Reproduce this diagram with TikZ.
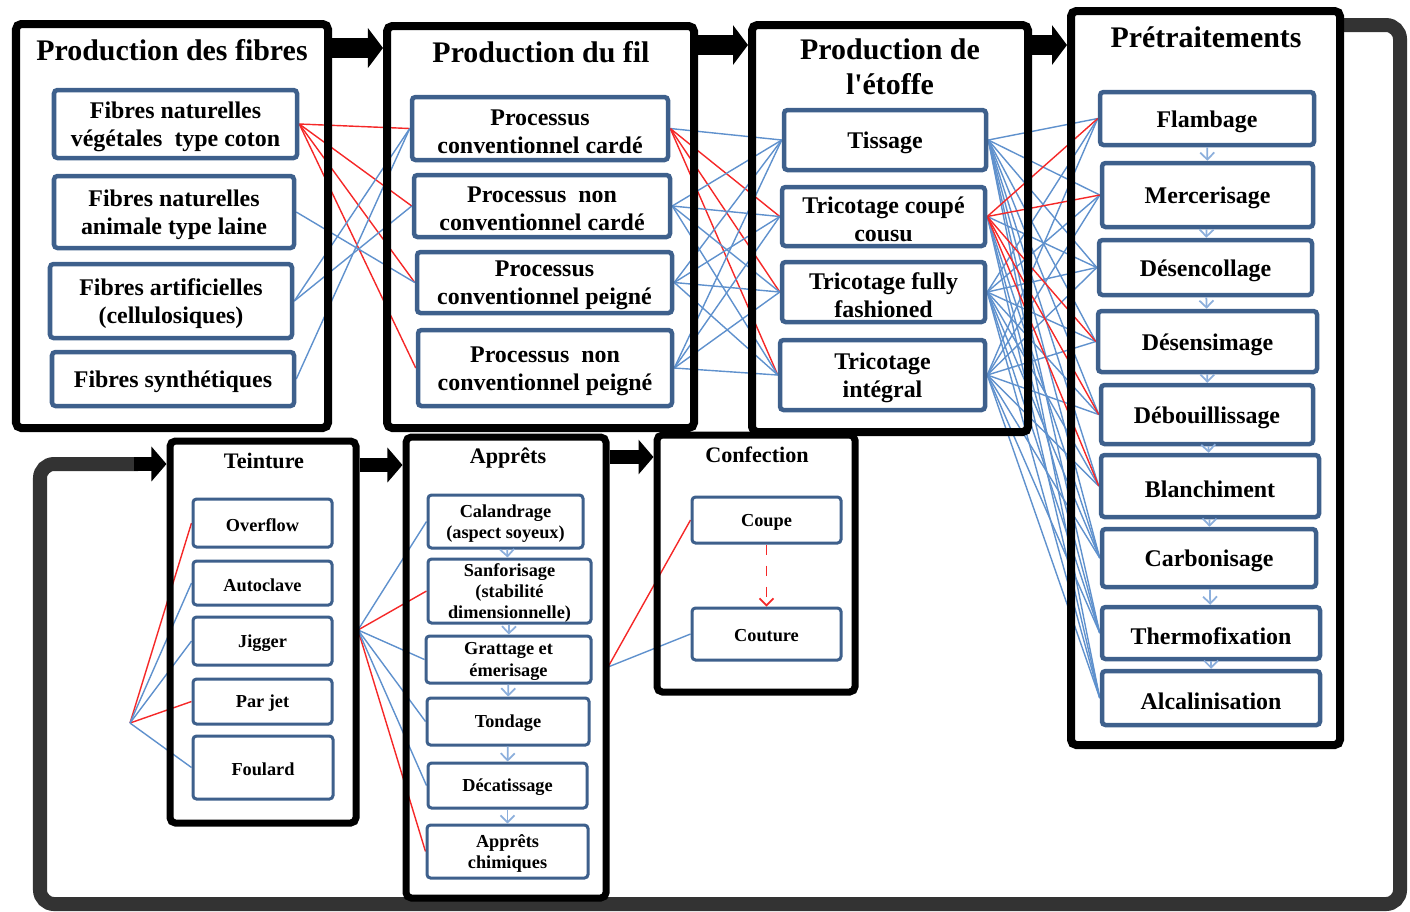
\documentclass[tikz,border=0pt]{standalone}
\usepackage{fontspec}
\setmainfont{Liberation Serif}
\usetikzlibrary{arrows.meta,fit}
\definecolor{boxblue}{RGB}{62,96,140}
\definecolor{linkblue}{RGB}{95,145,205}
\definecolor{linkred}{RGB}{245,40,40}
\definecolor{stepblue}{RGB}{140,175,220}
\definecolor{loopgray}{RGB}{51,51,51}
\pgfdeclarelayer{background}
\pgfsetlayers{background,main}

\tikzset{
  bigbox/.style={draw, line width=0.08cm, rounded corners=1.5pt, inner sep=0pt},
  lowbox/.style={bigbox, line width=0.07cm},
  title/.style={font=\fontsize{8.5}{10}\selectfont\bfseries, align=center},
  lowtitle/.style={font=\fontsize{6.3}{7.5}\selectfont\bfseries},
  subbox/.style={draw=boxblue, line width=0.045cm, rounded corners=1pt, fill=white, inner sep=0pt},
  lowsub/.style={subbox, line width=0.03cm},
  subtext/.style={align=center, inner sep=0pt, yshift=-0.03cm, font=\fontsize{6.8}{8}\selectfont\bfseries},
  lowtext/.style={align=center, inner sep=0pt, yshift=-0.02cm, font=\fontsize{5.2}{6.1}\selectfont\bfseries},
  blockarrow/.style={line width=0.2cm, -{Triangle[length=0.15cm,width=0.39cm]}},
  lowarrow/.style={line width=0.14cm, -{Triangle[length=0.15cm,width=0.34cm]}},
  loopline/.style={draw=loopgray, line width=0.14cm, rounded corners=4pt},
  redlink/.style={draw=linkred, line width=0.4pt},
  bluelink/.style={draw=linkblue, line width=0.4pt},
  steparrow/.style={draw=stepblue, line width=0.5pt, -{Straight Barb[length=0.07cm,width=0.14cm]}},
}

\begin{document}
\begin{tikzpicture}[x=0.01cm, y=-0.01cm]
  \useasboundingbox (0,0) rectangle (1410,911);

  % main stages, top row
  \node[bigbox, fit={(16,24) (328,428)}] (fibres) {};
  \node[bigbox, fit={(387,26) (694,428)}] (fil) {};
  \node[bigbox, fit={(752,25) (1028,432)}] (etoffe) {};
  \node[bigbox, fit={(1071,11) (1340,745)}] (pretrait) {};
  \node[title] (fibrestitle) at (172,50) {Production des fibres};
  \node[title] (filtitle) at (541,52) {Production du fil};
  \node[title] (etoffetitle) at (890,67) {Production de\\l\textquotesingle étoffe};
  \node[title] (pretraittitle) at (1206,37) {Prétraitements};

  % fibres
  \node[subbox, fit={(54,90) (297,158)}, label={[subtext]center:{Fibres naturelles\\végétales~ type coton}}] (vegetale) {};
  \node[subbox, fit={(54,176) (294,248)}, label={[subtext]center:{Fibres naturelles\\animale type laine}}] (animale) {};
  \node[subbox, fit={(50,264) (292,338)}, label={[subtext]center:{Fibres artificielles\\(cellulosiques)}}] (artif) {};
  \node[subbox, fit={(52,352) (294,406)}, label={[subtext]center:Fibres synthétiques}] (synth) {};

  % fil
  \node[subbox, fit={(412,97) (668,160)}, label={[subtext]center:{Processus\\conventionnel cardé}}] (convcarde) {};
  \node[subbox, fit={(414,175) (670,237)}, label={[subtext]center:{Processus~ non\\conventionnel cardé}}] (nconvcarde) {};
  \node[subbox, fit={(417,252) (672,313)}, label={[subtext]center:{Processus\\conventionnel peigné}}] (convpeigne) {};
  \node[subbox, fit={(418,330) (672,406)}, label={[subtext]center:{Processus~ non\\conventionnel peigné}}] (nconvpeigne) {};

  % etoffe
  \node[subbox, fit={(784,110) (986,170)}, label={[subtext]center:Tissage}] (tissage) {};
  \node[subbox, fit={(782,187) (985,246)}, label={[subtext]center:{Tricotage coupé\\cousu}}] (coupecousu) {};
  \node[subbox, fit={(782,262) (985,322)}, label={[subtext]center:{Tricotage fully\\fashioned}}] (fully) {};
  \node[subbox, fit={(780,340) (985,410)}, label={[subtext]center:{Tricotage\\intégral}}] (integral) {};

  % pretraitements
  \node[subbox, fit={(1100,92) (1314,145)}, label={[subtext]center:Flambage}] (flambage) {};
  \node[subbox, fit={(1102,163) (1313,227)}, label={[subtext]center:Mercerisage}] (mercer) {};
  \node[subbox, fit={(1099,240) (1312,295)}, label={[subtext]center:Désencollage}] (desencol) {};
  \node[subbox, fit={(1098,311) (1317,372)}, label={[subtext]center:Désensimage}] (desensim) {};
  \node[subbox, fit={(1101,385) (1313,444)}, label={[subtext]center:Débouillissage}] (debouil) {};
  \node[subbox, fit={(1101,455) (1319,517)}, label={[subtext]center:Blanchiment}] (blanch) {};
  \node[subbox, fit={(1102,529) (1316,587)}, label={[subtext]center:Carbonisage}] (carbon) {};
  \node[subbox, fit={(1102,607) (1320,659)}, label={[subtext]center:Thermofixation}] (thermo) {};
  \node[subbox, fit={(1102,671) (1320,725)}, label={[subtext]center:Alcalinisation}] (alcal) {};

  % bottom row
  \node[lowbox, fit={(170,441) (356,823)}] (teinture) {};
  \node[lowbox, fit={(406,437) (606,898)}] (appret) {};
  \node[lowbox, fit={(657,435) (855,692)}] (confection) {};
  \node[lowtitle] (teinturetitle) at (264,461) {Teinture};
  \node[lowtitle] (apprettitle) at (508,458) {Apprêts};
  \node[lowtitle] (confectiontitle) at (757,455) {Confection};

  \node[lowsub, fit={(193,499) (332,547)}, label={[lowtext]center:Overflow}] (overflow) {};
  \node[lowsub, fit={(193,561) (332,605)}, label={[lowtext]center:Autoclave}] (autoclave) {};
  \node[lowsub, fit={(193,617) (332,665)}, label={[lowtext]center:Jigger}] (jigger) {};
  \node[lowsub, fit={(193,679) (332,724)}, label={[lowtext]center:Par jet}] (parjet) {};
  \node[lowsub, fit={(193,736) (333,799)}, label={[lowtext]center:Foulard}] (foulard) {};

  \node[lowsub, fit={(428,495) (583,548)}, label={[lowtext]center:{Calandrage\\(aspect soyeux)}}] (calandrage) {};
  \node[lowsub, fit={(428,559) (591,623)}, label={[lowtext]center:{Sanforisage\\(stabilité\\dimensionnelle)}}] (sanfor) {};
  \node[lowsub, fit={(426,636) (591,683)}, label={[lowtext]center:{Grattage et\\émerisage}}] (grattage) {};
  \node[lowsub, fit={(427,698) (589,745)}, label={[lowtext]center:Tondage}] (tondage) {};
  \node[lowsub, fit={(428,763) (587,808)}, label={[lowtext]center:Décatissage}] (decatis) {};
  \node[lowsub, fit={(427,825) (588,878)}, label={[lowtext]center:{Apprêts\\chimiques}}] (chimiques) {};

  \node[lowsub, fit={(692,497) (841,543)}, label={[lowtext]center:Coupe}] (coupe) {};
  \node[lowsub, fit={(692,608) (841,660)}, label={[lowtext]center:Couture}] (couture) {};

  % free ends of the bottom fans
  \coordinate (dyein) at (130,723);
  \coordinate (dyeout) at (358,630);
  \coordinate (finout) at (608,667);
  \coordinate (loopend) at (138,464);

  \begin{pgfonlayer}{background}
    % fibres -> fil
    \foreach \b in {convcarde,nconvcarde,convpeigne,nconvpeigne}
      \draw[redlink] (vegetale.east) -- (\b.west);
    \foreach \a/\b in {animale/convpeigne, artif/convcarde, artif/nconvcarde, synth/convcarde}
      \draw[bluelink] (\a.east) -- (\b.west);

    % fil -> etoffe
    \draw[bluelink] (convcarde.east) -- (tissage.west);
    \foreach \b in {coupecousu,fully,integral}
      \draw[redlink] (convcarde.east) -- (\b.west);
    \foreach \a in {nconvcarde,convpeigne,nconvpeigne}
      \foreach \b in {tissage,coupecousu,fully,integral}
        \draw[bluelink] (\a.east) -- (\b.west);

    % etoffe -> pretraitements
    \foreach \a in {tissage,fully,integral}
      \foreach \b in {flambage,mercer,desencol,desensim,debouil,blanch,carbon,thermo,alcal}
        \draw[bluelink] (\a.east) -- (\b.west);
    \foreach \b in {desencol,carbon,thermo,alcal}
      \draw[bluelink] (coupecousu.east) -- (\b.west);
    \foreach \b in {flambage,mercer,desensim,debouil,blanch}
      \draw[redlink] (coupecousu.east) -- (\b.west);

    % teinture, apprets, confection
    \foreach \b in {overflow,parjet}
      \draw[redlink] (dyein) -- (\b.west);
    \foreach \b in {autoclave,jigger,foulard}
      \draw[bluelink] (dyein) -- (\b.west);
    \foreach \b in {sanfor,chimiques}
      \draw[redlink] (dyeout) -- (\b.west);
    \foreach \b in {calandrage,grattage,tondage,decatis}
      \draw[bluelink] (dyeout) -- (\b.west);
    \draw[redlink] (finout) -- (coupe.west);
    \draw[bluelink] (finout) -- (couture.west);

    % return loop
    \draw[loopline] (pretrait.east |- 0,25) -- (1400,25) -- (1400,904)
      -- (40,904) -- (40,464) -- (loopend);
  \end{pgfonlayer}

  % stage arrows
  \draw[blockarrow] (fibres.east |- 0,48) -- (fil.west |- 0,48);
  \draw[blockarrow] (fil.east |- 0,45) -- (etoffe.west |- 0,45);
  \draw[blockarrow] (etoffe.east |- 0,45) -- (pretrait.west |- 0,45);
  \draw[lowarrow] ([xshift=-0.04cm]loopend) -- (teinture.west |- 0,464);
  \draw[lowarrow] (teinture.east |- 0,465) -- (appret.west |- 0,465);
  \draw[lowarrow] (appret.east |- 0,457) -- (confection.west |- 0,457);

  % steps inside a stage
  \foreach \a/\b in {flambage/mercer, mercer/desencol, desencol/desensim, desensim/debouil,
      debouil/blanch, blanch/carbon, carbon/thermo, thermo/alcal}
    \draw[steparrow] (\a) -- (\b);
  \foreach \a/\b in {calandrage/sanfor, sanfor/grattage, grattage/tondage,
      tondage/decatis, decatis/chimiques}
    \draw[steparrow] (\a) -- (\b);
  \draw[steparrow, draw=linkred, dashed] (coupe) -- (couture);
\end{tikzpicture}
\end{document}
